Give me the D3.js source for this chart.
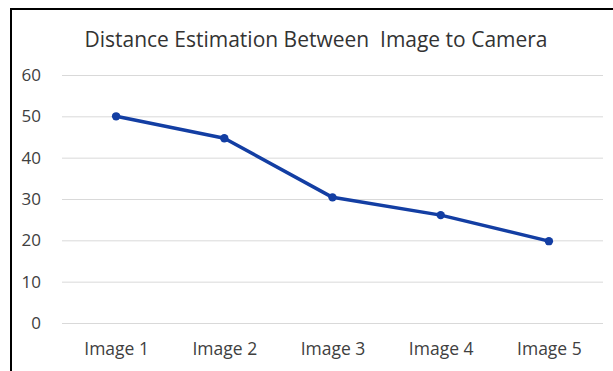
<!DOCTYPE html>
<html>
<head>
<meta charset="utf-8">
<script src="https://cdn.jsdelivr.net/npm/d3@7"></script>
<style>
  html, body { margin: 0; padding: 0; background: #fff; }
  svg { display: block; }
  text { font-family: "Open Sans", "Noto Sans", sans-serif; }
</style>
</head>
<body>
<svg id="chart" width="613" height="371"></svg>
<script>
// Chart data
const categories = ["Image 1", "Image 2", "Image 3", "Image 4", "Image 5"];
const distances = [50, 44.7, 30.4, 26.1, 19.8];
const yTicks = [0, 10, 20, 30, 40, 50, 60];
const title = "Distance Estimation Between  Image to Camera";

const W = 613, H = 371;
const plot = { left: 62, right: 603, top: 75, bottom: 323 };
const seriesColor = "#133ea3";
const labelColor = "#404040";

const svg = d3.select("#chart");

// Frame: left and top edges
svg.append("line").attr("x1", 11).attr("x2", 11).attr("y1", 8).attr("y2", H)
  .attr("stroke", "#000").attr("stroke-width", 2);
svg.append("line").attr("x1", 10).attr("x2", W).attr("y1", 9).attr("y2", 9)
  .attr("stroke", "#000").attr("stroke-width", 2);

const x = d3.scalePoint().domain(categories)
  .range([plot.left, plot.right]).padding(0.5);
const y = d3.scaleLinear().domain([0, 60]).range([plot.bottom, plot.top]);

// Horizontal gridlines
svg.append("g").selectAll("line").data(yTicks).join("line")
  .attr("x1", plot.left).attr("x2", plot.right)
  .attr("y1", d => y(d) + 0.5).attr("y2", d => y(d) + 0.5)
  .attr("stroke", "#d9d9d9").attr("stroke-width", 1);

// Y axis labels
const yAxis = d3.axisLeft(y).tickValues(yTicks).tickSize(0).tickPadding(0);
const gy = svg.append("g").attr("transform", `translate(41,0)`).call(yAxis);
gy.select(".domain").remove();
gy.selectAll("text").attr("fill", labelColor).style("font-size", "17px")
  .style("font-family", "'Open Sans', sans-serif");

// X axis labels
const xAxis = d3.axisBottom(x).tickSize(0).tickPadding(0);
const gx = svg.append("g").attr("transform", `translate(0,342.5)`).call(xAxis);
gx.select(".domain").remove();
gx.selectAll("text").attr("fill", labelColor).style("font-size", "17.5px")
  .style("font-family", "'Open Sans', sans-serif");

// Title
svg.append("text").attr("x", 316).attr("y", 47).attr("text-anchor", "middle")
  .attr("fill", "#333333").style("font-size", "22px")
  .attr("textLength", 463).attr("lengthAdjust", "spacingAndGlyphs")
  .style("white-space", "pre")
  .text(title);

// Line series
const line = d3.line().x((d, i) => x(categories[i])).y(d => y(d));
svg.append("path").datum(distances)
  .attr("d", line).attr("fill", "none")
  .attr("stroke", seriesColor).attr("stroke-width", 3.5)
  .attr("stroke-linejoin", "round");

svg.append("g").selectAll("circle").data(distances).join("circle")
  .attr("cx", (d, i) => x(categories[i])).attr("cy", d => y(d))
  .attr("r", 4.2).attr("fill", seriesColor);
</script>
</body>
</html>
